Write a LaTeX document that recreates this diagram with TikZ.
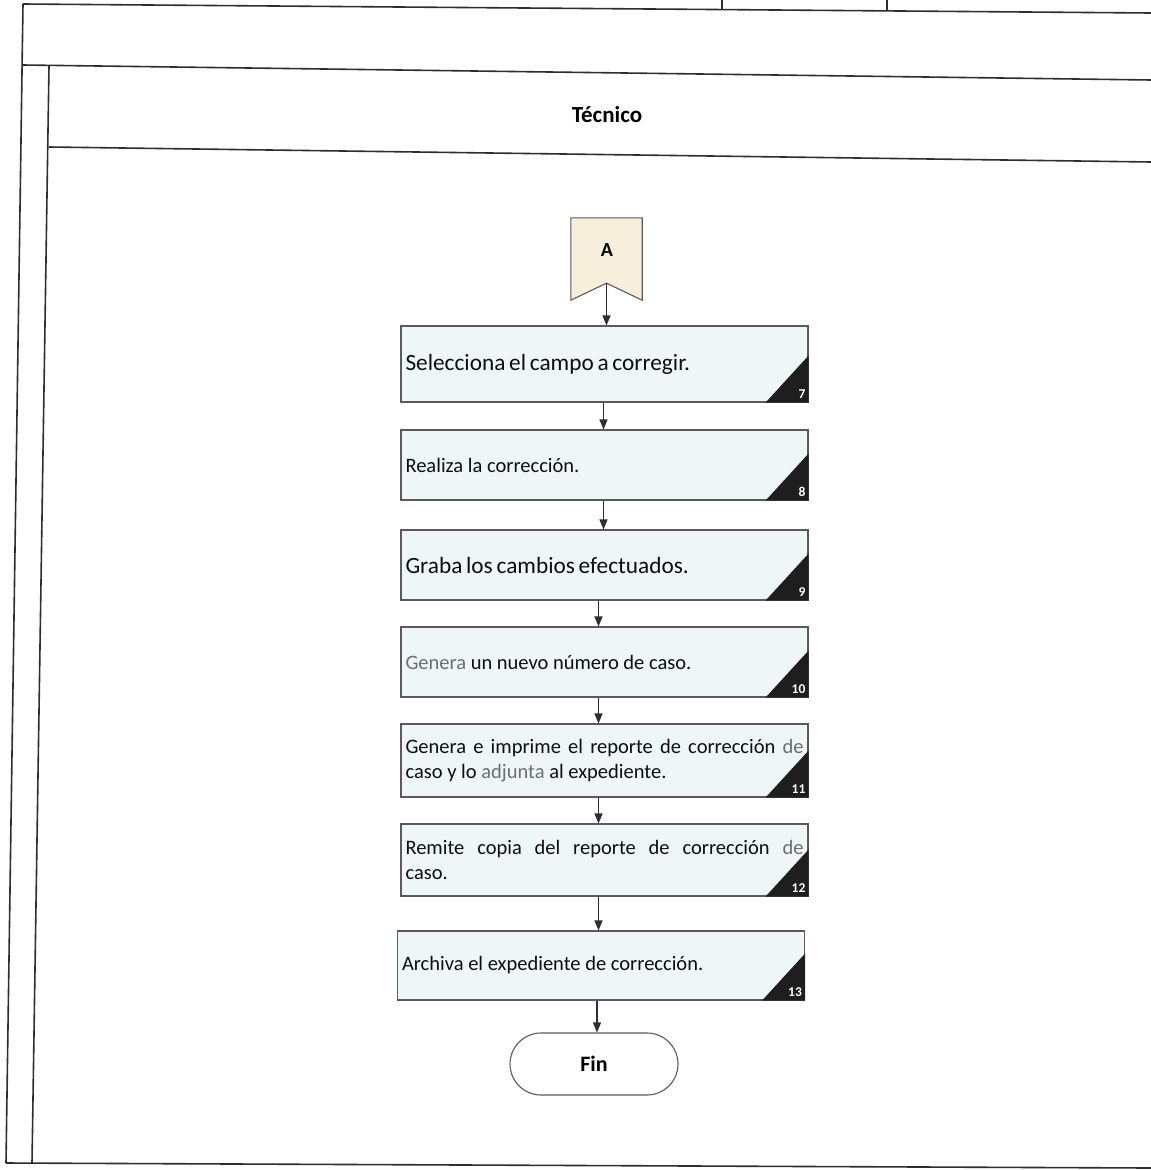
\documentclass[tikz,border=0pt]{standalone}
\usepackage{fontspec}
\setmainfont{Carlito}
\usetikzlibrary{arrows.meta}
\definecolor{frameline}{HTML}{2E2E2E}
\definecolor{boxline}{HTML}{5A5A5A}
\definecolor{boxfill}{HTML}{EEF6F8}
\definecolor{connfill}{HTML}{F7EEDB}
\definecolor{tagfill}{HTML}{1E1E1E}
\definecolor{softtext}{HTML}{6E6E6E}
\definecolor{maintext}{HTML}{0E0E0E}
\tikzset{
  frame/.style={draw=frameline, line width=1.6pt},
  stepbox/.style={draw=boxline, line width=1.1pt, fill=boxfill, rectangle,
    minimum width=407pt, text width=398pt, align=justify, inner xsep=4pt,
    font=\fontsize{20.5}{25}\selectfont, text=maintext},
  endbox/.style={draw=boxline, line width=1.1pt, fill=white, rounded corners=31pt,
    minimum width=168pt, minimum height=62pt, font=\fontsize{22}{24}\selectfont\bfseries},
  tagnum/.style={anchor=south east, text=white, inner sep=0pt,
    font=\fontsize{13.5}{14}\selectfont\bfseries},
  arr/.style={draw=frameline, line width=1.1pt, -{Triangle[length=10pt,width=8pt]}},
}
% larger letters with tight word spacing for a single-line step text
\newcommand{\widestep}[1]{{\fontsize{23.3}{25}\selectfont
  \spaceskip=0.16em plus 0.05em\relax #1\par}}
% draws the black corner tag with the step number
\newcommand{\steptag}[2]{%
  \fill[tagfill] (#1.south east) -- ++(0,-47) -- ++(-43,47) -- cycle;
  \node[tagnum] at ([xshift=-3pt,yshift=4pt]#1.south east) {#2};
}
\begin{document}
\begin{tikzpicture}[x=1pt,y=-1pt]
\useasboundingbox (0,0) rectangle (1151,1170);
\fill[white] (0,0) rectangle (1151,1170);

% outer frame of the lane table
\draw[frame] (23,4) -- (1151,13);
\draw[frame] (23,4) -- (6,1163);
\draw[frame] (6,1163) -- (1151,1168);
\draw[frame] (23,65) -- (1151,80);
\draw[frame] (49,66) -- (32,1163);
\draw[frame] (49,147) -- (1151,162);
\draw[frame] (722,0) -- (722,10);
\draw[frame] (887,0) -- (887,11);

% lane header
\node[font=\fontsize{23}{26}\selectfont\bfseries] (lane) at (607,115) {Técnico};

% off-page connector A
\node[minimum width=71pt, minimum height=82pt, inner sep=0pt] (conA) at (606.5,259) {};
\draw[draw=boxline, line width=1.1pt, fill=connfill]
  (conA.north west) -- (conA.north east) -- (conA.south east)
  -- ([yshift=17pt]conA.south) -- (conA.south west) -- cycle;
\node[font=\fontsize{20}{22}\selectfont\bfseries] (conAtxt) at (607,250) {A};
\coordinate (conAnotch) at ([yshift=17pt]conA.south);

% process steps
\node[stepbox, minimum height=76pt] (b7) at (604.5,364) {\widestep{Selecciona el campo a corregir.}};
\node[stepbox, minimum height=70pt] (b8) at (604.5,465) {Realiza la corrección.};
\node[stepbox, minimum height=70pt] (b9) at (604.5,565) {\widestep{Graba los cambios efectuados.}};
\node[stepbox, minimum height=70pt] (b10) at (604.5,662) {\textcolor{softtext}{Genera} un nuevo número de caso.};
\node[stepbox, minimum height=73pt] (b11) at (604.5,760.5) {Genera e imprime el reporte de corrección \textcolor{softtext}{de}\linebreak caso y lo \textcolor{softtext}{adjunta} al expediente.};
\node[stepbox, minimum height=72pt] (b12) at (604.5,860) {Remite copia del reporte de corrección \textcolor{softtext}{de}\linebreak caso.};
\node[stepbox, minimum height=69pt] (b13) at (601,965.5) {Archiva el expediente de corrección.};

\node[endbox] (fin) at (594,1064) {Fin};

% step number tags
\steptag{b7}{7}
\steptag{b8}{8}
\steptag{b9}{9}
\steptag{b10}{10}
\steptag{b11}{11}
\steptag{b12}{12}
\steptag{b13}{13}

% flow
\draw[arr] (conAnotch) -- (conAnotch |- b7.north);
\draw[arr] ([xshift=-1pt]b7.south) -- ([xshift=-1pt]b8.north);
\draw[arr] ([xshift=-1pt]b8.south) -- ([xshift=-1pt]b9.north);
\draw[arr] ([xshift=-6pt]b9.south) -- ([xshift=-6pt]b10.north);
\draw[arr] ([xshift=-6pt]b10.south) -- ([xshift=-6pt]b11.north);
\draw[arr] ([xshift=-6pt]b11.south) -- ([xshift=-6pt]b12.north);
\draw[arr] ([xshift=-6pt]b12.south) -- ([xshift=-6pt]b12.south |- b13.north);
\draw[arr] ([xshift=-4pt]b13.south) -- ([xshift=-4pt]b13.south |- fin.north);
\end{tikzpicture}
\end{document}
